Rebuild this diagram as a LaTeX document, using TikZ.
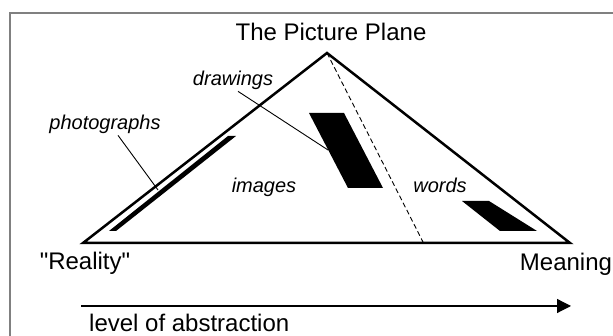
\documentclass[tikz,border=0pt]{standalone}
\usepackage{fontspec}
\setmainfont{Liberation Sans}
\usetikzlibrary{arrows.meta}

\begin{document}
\begin{tikzpicture}[
    x=1pt, y=1pt,
    edge/.style={line width=2.5pt, line join=miter},
    blob/.style={fill=black},
    leader/.style={line width=0.9pt},
    big/.style={font=\fontsize{24}{28}\selectfont, anchor=base},
    tag/.style={font=\fontsize{20}{24}\selectfont\itshape, anchor=base, inner sep=1pt},
    >={Triangle[length=14pt,width=14pt]}
  ]
  \useasboundingbox (0,0) rectangle (613,336);

  %% ---- Frame (runs off right and bottom) ----
  \draw[black!50, line width=1.5pt] (10,0) -- (10,323) -- (613,323);

  %% ---- The triangle ----
  \coordinate (reality) at (83,93);
  \coordinate (apex) at (327,283);
  \coordinate (meaning) at (570,93);
  \draw[edge] (reality) -- (apex) -- (meaning) -- cycle;

  % split between images and words
  \coordinate (split) at (423,94);
  \draw[dashed, dash pattern=on 5pt off 3pt, line width=0.9pt] (apex) -- (split);

  %% ---- Black blocks ----
  % photographs: thin strip along the left side
  \fill[blob] (109,105) -- (116,105) -- (236,200) -- (228,200) -- cycle;
  % drawings
  \fill[blob] (309,223) -- (344,223) -- (383,148) -- (348,148) -- cycle;
  % words
  \fill[blob] (462,135) -- (489,135) -- (537,105) -- (500,105) -- cycle;

  %% ---- Labels ----
  \node[big] (title) at (331,295) {The Picture Plane};
  \node[big] (realitylbl) at (85,66) {\textquotedbl Reality\textquotedbl};
  \node[big] (meaninglbl) at (566,65) {Meaning};
  \node[big, anchor=base west, inner sep=0pt] (axislbl) at (89,4) {level of abstraction};

  \node[tag] (photolbl) at (105,206) {photographs};
  \node[tag] (drawlbl) at (233,250) {drawings};
  \node[tag] (imagelbl) at (264,143) {images};
  \node[tag] (wordlbl) at (440,143) {words};

  % leader lines
  \coordinate (photopin) at (158,146);
  \coordinate (drawpin) at (328,186);
  \draw[leader] ([xshift=13pt]photolbl.south) -- (photopin);
  \draw[leader] ([xshift=5pt]drawlbl.south) -- (drawpin);

  %% ---- Axis ----
  \coordinate (axisstart) at (81,30);
  \coordinate (axisend) at (571,30);
  \draw[->, line width=1.2pt] (axisstart) -- (axisend);

\end{tikzpicture}
\end{document}
